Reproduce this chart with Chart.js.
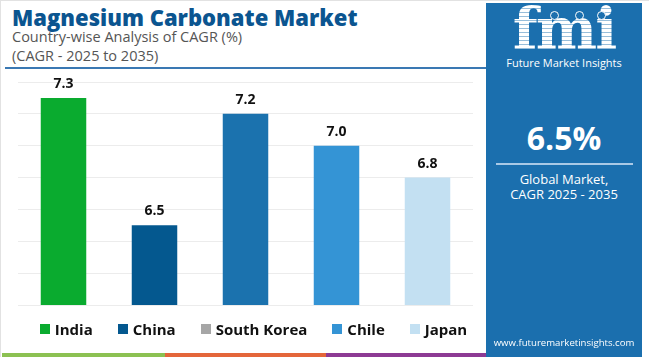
<!DOCTYPE html>
<html>
<head>
<meta charset="utf-8">
<script src="https://cdn.jsdelivr.net/npm/chart.js@4/dist/chart.umd.min.js"></script>
<style>
  html, body { margin: 0; padding: 0; background: #fff; }
  body { width: 650px; height: 357px; position: relative; overflow: hidden; font-family: "Open Sans", sans-serif; }
  #frame { position: absolute; left: 0; top: 0; width: 649px; height: 357px; border-left: 1px solid #e2e2e2; border-top: 1px solid #e2e2e2; box-sizing: border-box; }
  #title { position: absolute; left: 12px; top: 2px; font-family: "Open Sans", sans-serif; font-weight: 800; font-size: 22px; color: #0b5590; white-space: nowrap; }
  .sub { position: absolute; left: 12px; font-family: "Open Sans", sans-serif; font-size: 14.5px; color: #555; white-space: nowrap; }
  #rule { position: absolute; left: 5px; top: 67px; width: 481px; height: 2px; background: #3a78b3; }
  #panel { position: absolute; left: 486px; top: 3px; width: 156px; height: 354px; background: #1b6fae; color: #fff; text-align: center; }
  #logo { position: absolute; left: 0; top: -6px; width: 156px; font-family: "DejaVu Serif", serif; font-weight: bold; font-size: 58px; line-height: 64px; letter-spacing: -2px;
          background: repeating-linear-gradient(180deg, #fff 0px, #fff 3px, rgba(255,255,255,0.55) 3px, rgba(255,255,255,0.55) 4px);
          -webkit-background-clip: text; background-clip: text; color: transparent; }
  .globe { position: absolute; width: 9px; height: 9px; border-radius: 50%; border: 1.5px solid #fff; background: #1b6fae; box-sizing: border-box; }
  #brand { position: absolute; left: 0; top: 52px; width: 156px; font-size: 11px; font-family: "Open Sans", sans-serif; }
  #big { position: absolute; left: 0; top: 113px; width: 156px; font-family: "Open Sans", sans-serif; font-weight: 700; font-size: 32px; line-height: 44px; }
  #pline { position: absolute; left: 10px; top: 160px; width: 137px; height: 2px; background: #a9c9e6; }
  #glob { position: absolute; left: 0; top: 169px; width: 156px; font-size: 13px; line-height: 15px; }
  #url { position: absolute; left: 0; top: 333px; width: 156px; font-size: 9.6px; white-space: nowrap; }
  #chartwrap { position: absolute; left: 0; top: 70px; width: 486px; height: 283px; }
  #legend { position: absolute; left: 0; top: 319px; width: 486px; display: flex; justify-content: center; gap: 25px; padding-left: 21px; box-sizing: border-box; font-family: "Open Sans", sans-serif; font-weight: 700; font-size: 15px; color: #111; }
  .li { display: flex; align-items: center; height: 20px; }
  .sw { width: 10px; height: 10px; margin-right: 5px; }
  .stripe { position: absolute; top: 353px; height: 4px; }
</style>
</head>
<body>
<div id="frame"></div>
<div id="title">Magnesium Carbonate Market</div>
<div class="sub" style="top:27px">Country-wise Analysis of CAGR (%)</div>
<div class="sub" style="top:46px">(CAGR - 2025 to 2035)</div>
<div id="rule"></div>
<div id="chartwrap"><canvas id="c" width="486" height="283"></canvas></div>
<div id="legend"></div>
<div class="stripe" style="left:2px;width:163px;background:#8cc152"></div>
<div class="stripe" style="left:165px;width:161px;background:#e4663a"></div>
<div class="stripe" style="left:326px;width:160px;background:#8d3a94"></div>
<div id="panel">
  <div id="logo">fmi</div>
  <div class="globe" style="left:64px;top:8px"></div>
  <div class="globe" style="left:89px;top:8px"></div>
  <div class="globe" style="left:111px;top:8px"></div>
  <div id="brand">Future Market Insights</div>
  <div id="big">6.5%</div>
  <div id="pline"></div>
  <div id="glob">Global Market,<br>CAGR 2025 - 2035</div>
  <div id="url">www.futuremarketinsights.com</div>
</div>
<script>
const categories = ["India", "China", "South Korea", "Chile", "Japan"];
const cagrValues = [7.3, 6.5, 7.2, 7.0, 6.8];
const barColors = ["#0aab2f", "#04588f", "#1b72ae", "#3494d5", "#c3e0f2"];
const legendColors = ["#0aab2f", "#04588f", "#a6a6a6", "#3494d5", "#c3e0f2"];
const yTicks = [6.0, 6.2, 6.4, 6.6, 6.8, 7.0, 7.2, 7.4];

// legend (HTML) built from arrays
const lg = document.getElementById('legend');
categories.forEach((name, i) => {
  const it = document.createElement('div'); it.className = 'li';
  const sw = document.createElement('span'); sw.className = 'sw'; sw.style.background = legendColors[i];
  const tx = document.createElement('span'); tx.textContent = name;
  it.appendChild(sw); it.appendChild(tx); lg.appendChild(it);
});

const valueLabels = {
  id: 'valueLabels',
  afterDatasetsDraw(chart) {
    const ctx = chart.ctx;
    const meta = chart.getDatasetMeta(0);
    ctx.save();
    ctx.font = 'bold 14px "Open Sans", sans-serif';
    ctx.fillStyle = '#111';
    ctx.textAlign = 'center';
    ctx.textBaseline = 'alphabetic';
    meta.data.forEach((bar, i) => {
      ctx.fillText(cagrValues[i].toFixed(1), bar.x, bar.y - 10);
    });
    ctx.restore();
  }
};

new Chart(document.getElementById('c'), {
  type: 'bar',
  data: {
    labels: categories,
    datasets: [{ data: cagrValues, backgroundColor: barColors, borderWidth: 0, barPercentage: 0.5, categoryPercentage: 1.0 }]
  },
  options: {
    responsive: false,
    animation: false,
    devicePixelRatio: 1,
    layout: { padding: { left: 18, right: 13, top: 12, bottom: 48 } },
    plugins: { legend: { display: false }, tooltip: { enabled: false } },
    scales: {
      x: { display: false },
      y: {
        min: yTicks[0], max: yTicks[yTicks.length - 1],
        afterBuildTicks(axis) { axis.ticks = yTicks.map(v => ({ value: v })); },
        ticks: { display: false },
        grid: { color: '#ececec', drawTicks: false, lineWidth: 1 },
        border: { display: false }
      }
    }
  },
  plugins: [valueLabels]
});
</script>
</body>
</html>
